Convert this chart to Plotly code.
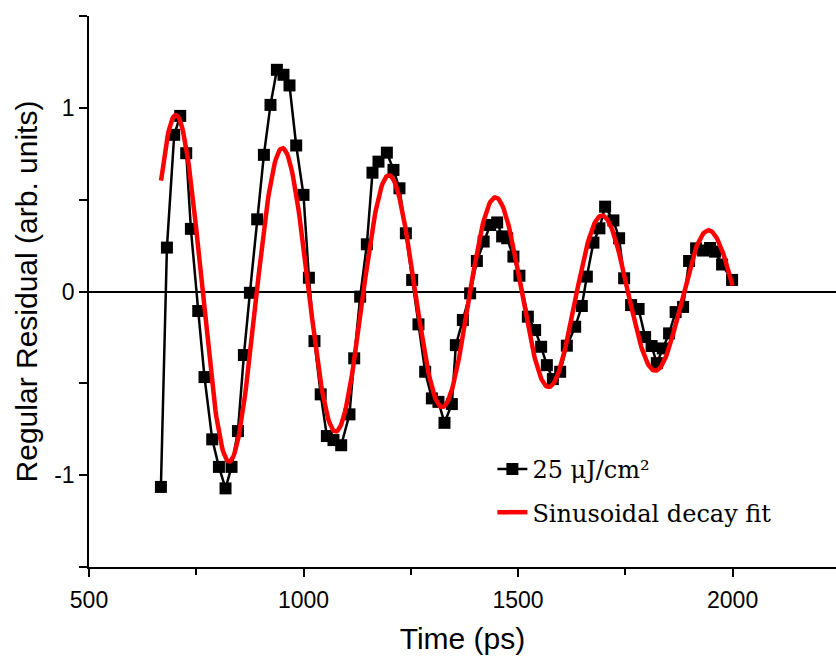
import numpy as np
import plotly.graph_objects as go

# Measured residual (25 uJ/cm^2): delay time in ps and residual in arb. units
time_ps = [
    667.6, 681.6, 698.6, 712.6, 726.6, 737.5, 754.6, 769.2, 787.2, 802.8,
    818.2, 832.2, 847.1, 861.0, 875.0, 892.0, 907.6, 923.0, 937.9, 953.3,
    967.3, 982.9, 999.9, 1012.5, 1025.5, 1040.0, 1054.4, 1069.8, 1087.8, 1107.1,
    1118.1, 1132.0, 1147.6, 1160.7, 1174.7, 1194.2, 1209.6, 1223.6, 1238.5, 1253.2,
    1267.9, 1283.5, 1299.1, 1314.5, 1328.5, 1345.7, 1355.0, 1371.3, 1388.3, 1404.0,
    1419.8, 1434.9, 1451.3, 1462.9, 1474.6, 1489.2, 1503.2, 1522.8, 1539.8, 1553.8,
    1567.1, 1581.1, 1598.1, 1613.7, 1633.1, 1648.6, 1660.3, 1675.6, 1689.6, 1702.9,
    1722.2, 1735.5, 1747.2, 1763.5, 1780.9, 1796.1, 1811.2, 1823.4, 1837.3, 1852.0,
    1867.2, 1884.6, 1898.6, 1914.9, 1931.2, 1947.5, 1959.2, 1975.5, 1998.8,
]
residual = [
    -1.064, 0.239, 0.853, 0.956, 0.753, 0.341, -0.106, -0.466, -0.805, -0.955,
    -1.072, -0.955, -0.760, -0.346, -0.007, 0.393, 0.744, 1.016, 1.207, 1.180,
    1.122, 0.795, 0.526, 0.075, -0.270, -0.560, -0.787, -0.809, -0.837, -0.669,
    -0.364, -0.028, 0.257, 0.647, 0.707, 0.756, 0.662, 0.562, 0.317, 0.063,
    -0.179, -0.437, -0.582, -0.601, -0.715, -0.613, -0.292, -0.155, -0.010, 0.166,
    0.272, 0.362, 0.376, 0.300, 0.290, 0.190, 0.086, -0.137, -0.210, -0.301,
    -0.401, -0.477, -0.437, -0.295, -0.192, -0.079, 0.081, 0.266, 0.344, 0.462,
    0.387, 0.290, 0.072, -0.074, -0.095, -0.248, -0.297, -0.390, -0.310, -0.228,
    -0.112, -0.084, 0.166, 0.235, 0.223, 0.237, 0.217, 0.147, 0.063,
]

# Damped-sine fit parameters: y = y0 + A*exp(-t/t0)*sin(pi*(t - xc)/w)
fit_y0 = -0.03
fit_A = 1.75
fit_t0 = 1236.0
fit_xc = 641.5
fit_w = 124.15
fit_start, fit_end = 668.0, 2000.0

series_name = "25 μJ/cm²"
fit_name = "Sinusoidal decay fit"

x_ticks = [500, 1000, 1500, 2000]
y_tickvals = [-1.5, -1.0, -0.5, 0.0, 0.5, 1.0, 1.5]
y_ticktext = ["", "-1", "", "0", "", "1", ""]

t_fit = np.linspace(fit_start, fit_end, 600)
y_fit = fit_y0 + fit_A * np.exp(-t_fit / fit_t0) * np.sin(np.pi * (t_fit - fit_xc) / fit_w)

fig = go.Figure()
fig.add_trace(go.Scatter(
    x=time_ps, y=residual, mode="lines+markers", name=series_name,
    legendgroup="data",
    line=dict(color="black", width=2.5),
    marker=dict(symbol="square", size=12, color="black"),
))
fig.add_trace(go.Scatter(
    x=t_fit, y=y_fit, mode="lines", name=fit_name,
    legendgroup="fit",
    line=dict(color="#ff0000", width=4.5),
))

axis_font = "Liberation Sans, Arial, sans-serif"
fig.update_layout(
    width=836, height=658,
    margin=dict(l=89, r=0, t=16, b=91),
    paper_bgcolor="white", plot_bgcolor="white",
    showlegend=True,
    legend=dict(
        x=0.54, y=0.218, xanchor="left", yanchor="top",
        font=dict(family="DejaVu Serif, serif", size=24, color="black"),
        bgcolor="rgba(0,0,0,0)", traceorder="grouped", tracegroupgap=9,
    ),
    xaxis=dict(
        range=[500, 2241], tickvals=x_ticks, ticks="outside", ticklen=8,
        tickwidth=1.5, tickcolor="black", ticklabelstandoff=4,
        minor=dict(dtick=250, tick0=500, ticks="outside", ticklen=6, tickwidth=1.5, tickcolor="black"),
        showline=True, linecolor="black", linewidth=1.5,
        showgrid=False, zeroline=False,
        tickfont=dict(family=axis_font, size=23, color="black"),
        title=dict(text="Time (ps)", font=dict(family=axis_font, size=30, color="black"), standoff=16),
    ),
    yaxis=dict(
        range=[-1.5, 1.5], tickvals=y_tickvals, ticktext=y_ticktext,
        ticks="outside", ticklen=8, tickwidth=1.5, tickcolor="black",
        showline=True, linecolor="black", linewidth=1.5,
        showgrid=False, zeroline=True, zerolinecolor="black", zerolinewidth=1.5,
        tickfont=dict(family=axis_font, size=23, color="black"),
        title=dict(text="Regular Residual (arb. units)", font=dict(family=axis_font, size=30, color="black"), standoff=8),
    ),
)

fig.write_html("out.html", config={"displayModeBar": False})
